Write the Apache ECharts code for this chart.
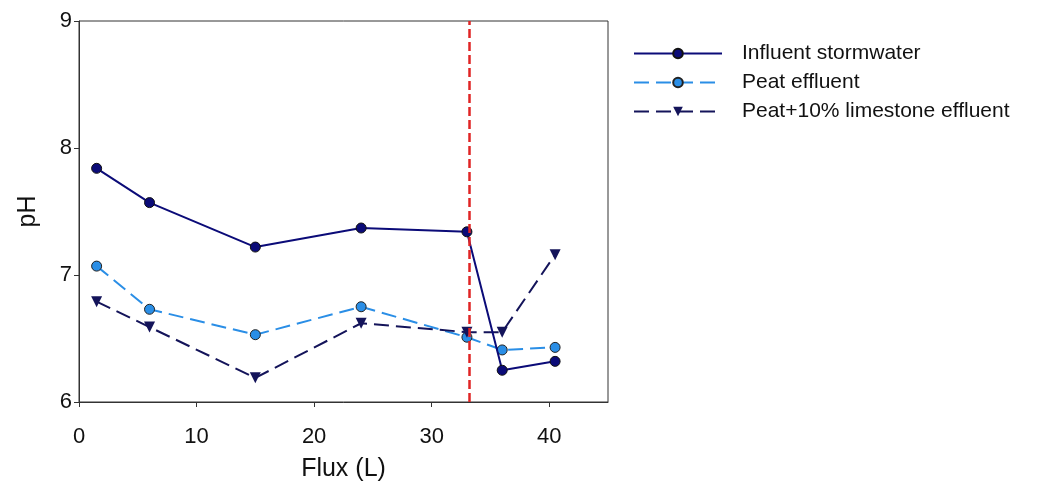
<!DOCTYPE html>
<html>
<head>
<meta charset="utf-8">
<script src="https://cdn.jsdelivr.net/npm/echarts@6/dist/echarts.min.js"></script>
<style>html,body{margin:0;padding:0;background:#fff;}#c{width:1052px;height:490px;}</style>
</head>
<body>
<div id="c"></div>
<script>
var seriesNames = ['Influent stormwater', 'Peat effluent', 'Peat+10% limestone effluent'];
var fluxX = [1.5, 6, 15, 24, 33, 36, 40.5];
var influent = [7.84, 7.57, 7.22, 7.37, 7.34, 6.25, 6.32];
var peat = [7.07, 6.73, 6.53, 6.75, 6.51, 6.41, 6.43];
var limestone = [6.79, 6.59, 6.19, 6.62, 6.55, 6.55, 7.16];
var cutoffX = 33.2;
var xTicks = [0, 10, 20, 30, 40];
var yTicks = [6, 7, 8, 9];

function pairs(ys) { return fluxX.map(function (x, i) { return [x, ys[i]]; }); }

var font = '"Liberation Sans", Arial, sans-serif';
var chart = echarts.init(document.getElementById('c'), null, {renderer: 'canvas'});
chart.setOption({
  animation: false,
  backgroundColor: '#ffffff',
  grid: {left: 79, top: 21, width: 529, height: 381, show: true, borderColor: '#333', borderWidth: 1, backgroundColor: 'transparent'},
  xAxis: {
    type: 'value', min: 0, max: 45, interval: 10,
    name: 'Flux (L)', nameLocation: 'middle', nameGap: 55,
    nameTextStyle: {fontFamily: font, fontSize: 25, color: '#111'},
    axisLine: {show: true, lineStyle: {color: '#333', width: 1}},
    axisTick: {show: true, inside: false, length: 5, customValues: xTicks, lineStyle: {color: '#333'}},
    axisLabel: {fontFamily: font, fontSize: 22, color: '#111', margin: 24, customValues: xTicks},
    splitLine: {show: false}
  },
  yAxis: {
    type: 'value', min: 6, max: 9, interval: 1,
    name: 'pH', nameLocation: 'middle', nameGap: 38, nameRotate: 90,
    nameTextStyle: {fontFamily: font, fontSize: 25, color: '#111'},
    axisLine: {show: true, lineStyle: {color: '#333', width: 1}},
    axisTick: {show: true, inside: false, length: 5, customValues: yTicks, lineStyle: {color: '#333'}},
    axisLabel: {fontFamily: font, fontSize: 22, color: '#111', margin: 7, customValues: yTicks},
    splitLine: {show: false}
  },
  legend: {
    orient: 'vertical', left: 628, top: 38, itemGap: 8, itemWidth: 88, itemHeight: 12,
    textStyle: {fontFamily: font, fontSize: 21, color: '#111', padding: [0, 0, 0, 15]},
    data: seriesNames
  },
  series: [
    {
      name: seriesNames[0], type: 'line', data: pairs(influent),
      symbol: 'circle', symbolSize: 10,
      lineStyle: {color: '#0b0b78', width: 2, type: 'solid'},
      itemStyle: {color: '#0b0b78', borderColor: '#111', borderWidth: 1},
      markLine: {
        silent: true, symbol: 'none', label: {show: false},
        lineStyle: {color: '#e02424', width: 2.5, type: [9, 4]},
        data: [{xAxis: cutoffX}]
      },
      z: 3
    },
    {
      name: seriesNames[1], type: 'line', data: pairs(peat),
      symbol: 'circle', symbolSize: 10,
      lineStyle: {color: '#2a8ee6', width: 2, type: [15, 7]},
      itemStyle: {color: '#2a8ee6', borderColor: '#222', borderWidth: 1},
      z: 2
    },
    {
      name: seriesNames[2], type: 'line', data: pairs(limestone),
      symbol: 'triangle', symbolRotate: 180, symbolSize: 11,
      lineStyle: {color: '#14145a', width: 2, type: [15, 7]},
      itemStyle: {color: '#14145a', borderColor: '#14145a', borderWidth: 0},
      z: 2
    }
  ]
});
</script>
</body>
</html>
